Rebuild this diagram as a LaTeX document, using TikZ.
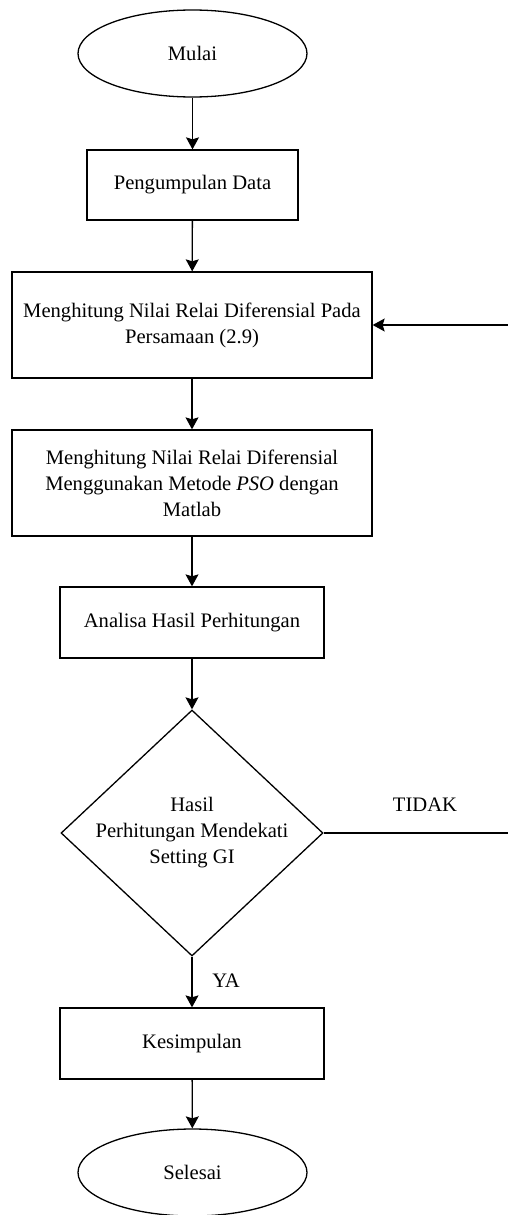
\documentclass[tikz,border=0pt]{standalone}
\usepackage{fontspec}
\setmainfont{Liberation Serif}
\usetikzlibrary{shapes.geometric,arrows.meta}
\begin{document}
\begin{tikzpicture}[x=1pt,y=-1pt,
  every node/.style={font=\fontsize{20.6}{26}\selectfont},
  term/.style={draw,ellipse,line width=1.3pt,inner sep=0pt,minimum width=229pt,minimum height=87pt},
  proc/.style={draw,rectangle,line width=1.3pt,inner sep=0pt,align=center},
  deci/.style={draw,diamond,line width=1.3pt,inner sep=0pt,minimum width=262pt,minimum height=246pt},
  arr/.style={line width=1.3pt,-{Stealth[length=12pt,width=13pt,inset=2pt]}},
  ln/.style={line width=1.3pt}]
\useasboundingbox (0,0) rectangle (508,1215);
\node[term] (mulai) at (192.5,53.5) {Mulai};
\node[proc,minimum width=211pt,minimum height=70pt] (kump) at (192.5,185) {Pengumpulan Data};
\node[proc,minimum width=360pt,minimum height=106pt] (hit1) at (192,325) {Menghitung Nilai Relai Diferensial Pada\\Persamaan (2.9)};
\node[proc,minimum width=360pt,minimum height=106pt] (hit2) at (192,483) {Menghitung Nilai Relai Diferensial\\Menggunakan Metode \textit{PSO} dengan\\Matlab};
\node[proc,minimum width=264pt,minimum height=71pt] (anal) at (192,622.5) {Analisa Hasil Perhitungan};
\node[deci] (dec) at (192,833) {};
\node[align=center] (dectxt) at (192,833) {Hasil\\Perhitungan Mendekati\\Setting GI};
\node[proc,minimum width=264pt,minimum height=71pt] (kes) at (192,1043.5) {Kesimpulan};
\node[term] (sel) at (192.5,1172.5) {Selesai};
\coordinate (r1) at (508,833);
\coordinate (r2) at (508,325);
\node (tidak) at (425,805) {TIDAK};
\node (ya) at (226,981) {YA};
\draw[arr] (mulai) -- (kump);
\draw[arr] (kump) -- (hit1);
\draw[arr] (hit1) -- (hit2);
\draw[arr] (hit2) -- (anal);
\draw[arr] (anal) -- (dec);
\draw[arr] (dec) -- (kes);
\draw[arr] (kes) -- (sel);
\draw[ln] (dec.east) -- (r1);
\draw[arr] (r2) -- (hit1.east);
\end{tikzpicture}
\end{document}
